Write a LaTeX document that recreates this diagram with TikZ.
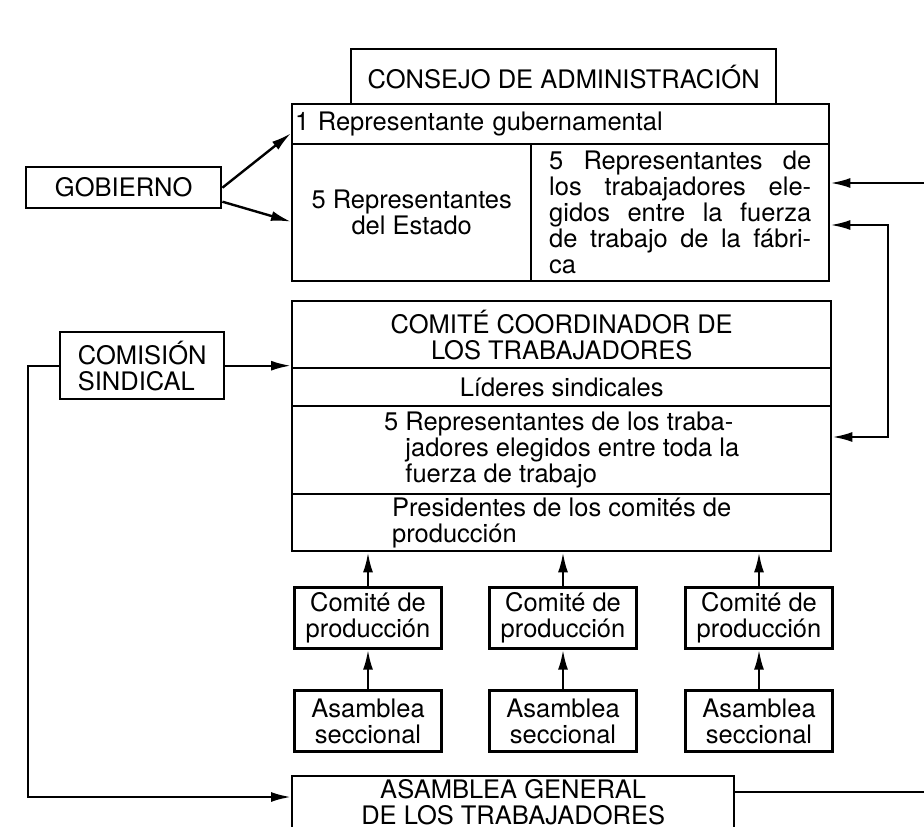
\documentclass[tikz,border=0pt]{standalone}
\usepackage{fontspec}
\setmainfont{TeX Gyre Heros}
\usetikzlibrary{arrows.meta,positioning,calc}
\newcommand{\cellfont}{\fontsize{25.5}{26}\selectfont}
\tolerance=10000
\hbadness=10000

\begin{document}
\begin{tikzpicture}[x=1pt, y=-1pt,
        cell/.style={rectangle, draw=black, line width=2.4pt, anchor=north west,
        inner sep=0pt, font=\cellfont, align=center},
        smallbox/.style={rectangle, draw=black, line width=2.4pt, inner sep=0pt,
        font=\cellfont, align=center, minimum width=147pt, minimum height=61pt},
        link/.style={line width=2.4pt, -{Latex[length=20pt,width=10pt]}},
        biarrow/.style={line width=2.4pt, {Latex[length=20pt,width=10pt]}-{Latex[length=20pt,width=10pt]}},
        plain/.style={line width=2.4pt}]
    \useasboundingbox (0,0) rectangle (924,827);

    % consejo de administracion
    \node [cell, minimum width=425pt, minimum height=55pt] (consejo) at (350,48) {CONSEJO DE ADMINISTRACIÓN};
    \node [cell, minimum height=40pt, text width=531pt, inner xsep=3pt, align=left] (gub) at (291,103) {1 Representante gubernamental};
    \node [cell, minimum width=239pt, minimum height=137pt] (estado) at (291,143) {5 Representantes\\del Estado};
    \node [cell, minimum height=137pt, text width=262pt, inner xsep=18pt, align=justify] (fabrica) at (530,143)
    {5 Representantes de\linebreak los trabajadores ele-\linebreak gidos entre la fuerza\linebreak de trabajo de la fábri-\linebreak ca};

    % comite coordinador
    \node [cell, minimum width=539pt, minimum height=67pt] (coord) at (291,300) {COMITÉ COORDINADOR DE\\LOS TRABAJADORES};
    \node [cell, minimum width=539pt, minimum height=38pt] (lideres) at (291,367) {Líderes sindicales};
    \node [cell, minimum width=539pt, minimum height=88pt, align=left] (electos) at (291,405)
    {5 Representantes de los traba-\\\phantom{5 }jadores elegidos entre toda la\\\phantom{5 }fuerza de trabajo};
    \node [cell, minimum width=539pt, minimum height=57pt, align=left] (presid) at (291,493)
    {Presidentes de los comités de\\producción};

    % izquierda
    \node [cell, minimum width=195pt, minimum height=41pt] (gob) at (25,166) {GOBIERNO};
    \node [cell, minimum width=164pt, minimum height=67pt, align=left] (comision) at (59,331) {COMISIÓN\\SINDICAL};

    % asamblea general
    \node [cell, minimum width=442pt, minimum height=56pt, text depth=4pt] (general) at (291,775) {ASAMBLEA GENERAL\\DE LOS TRABAJADORES};

    % comites de produccion y asambleas seccionales
    \foreach \i/\x in {1/368,2/563,3/759} {
        \node [smallbox] (prod\i) at (\x,618) {Comité de\\producción};
        \node [smallbox] (secc\i) at (\x,721) {Asamblea\\seccional};
        \draw [link] (secc\i) -- (prod\i);
        \draw [link] (prod\i) -- (prod\i |- presid.south);
    }

    \draw [link] (gob.east) -- ([yshift=-9pt]gub.west);
    \draw [link] ([yshift=-14pt]gob.east) -- ([yshift=-9pt]estado.west);

    \coordinate (derA) at (924,183);
    \draw [link] (derA) -- (derA -| fabrica.east);
    \coordinate (codo1) at (888,225);
    \coordinate (codo2) at (888,437);
    \draw [biarrow] (codo1 -| fabrica.east) -- (codo1) -- (codo2) -- (codo2 -| electos.east);

    \draw [link] (comision.east) -- (comision.east -| coord.west);
    \coordinate (izq) at (28,797);
    \draw [link] (comision.west) -| (izq) -- (izq -| general.west);

    \coordinate (derB) at (924,792);
    \draw [plain] (derB -| general.east) -- (derB);
\end{tikzpicture}
\end{document}
